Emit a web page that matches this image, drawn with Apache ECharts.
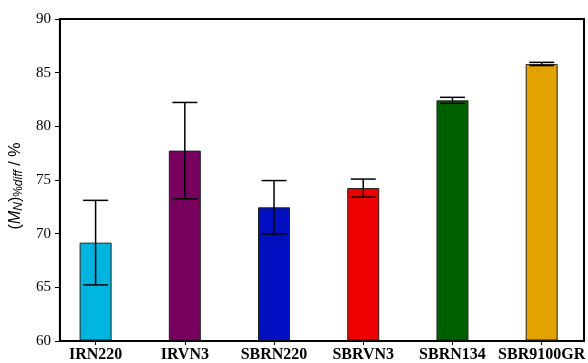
<!DOCTYPE html>
<html>
<head>
<meta charset="utf-8">
<script src="https://cdn.jsdelivr.net/npm/echarts@6/dist/echarts.min.js"></script>
<style>
  html, body { margin: 0; padding: 0; background: #fff; }
  #chart { width: 588px; height: 363px; }
</style>
</head>
<body>
<div id="chart"></div>
<script>
// Mean relative number-average molar mass difference per rubber grade
const categories = ['IRN220', 'IRVN3', 'SBRN220', 'SBRVN3', 'SBRN134', 'SBR9100GR'];
const meanValues = [69.1, 77.7, 72.4, 74.2, 82.4, 85.8];
const errorValues = [3.95, 4.5, 2.5, 0.84, 0.28, 0.15];
const barColors = ['#00B4E0', '#78005E', '#0010C0', '#EE0000', '#006000', '#E2A200'];
const yTicks = [60, 65, 70, 75, 80, 85, 90];

const chart = echarts.init(document.getElementById('chart'), null, { renderer: 'canvas' });

const yMin = yTicks[0];
const yMax = yTicks[yTicks.length - 1];
const yStep = yTicks[1] - yTicks[0];

const barData = meanValues.map((v, i) => ({
  value: v,
  itemStyle: { color: barColors[i] }
}));
const errorData = meanValues.map((v, i) => [i, v - errorValues[i], v + errorValues[i]]);

const option = {
  animation: false,
  backgroundColor: '#fff',
  grid: [
    // bars and category labels
    { left: 51, width: 538, top: 19, height: 322, show: false },
    // framed plot box with the value scale
    { left: 56, right: 4, top: 19, height: 322, show: true, borderColor: '#000', borderWidth: 2, backgroundColor: 'transparent' }
  ],
  xAxis: [
    {
      type: 'category', gridIndex: 0, data: categories,
      axisLine: { show: true, lineStyle: { opacity: 0 } },
      axisTick: { show: true, alignWithLabel: true, length: 5, lineStyle: { color: '#000', width: 1 } },
      axisLabel: { interval: 0, color: '#000', fontFamily: 'Liberation Serif', fontWeight: 'bold', fontSize: 16, margin: 7 }
    },
    { type: 'value', gridIndex: 1, show: false, min: 0, max: 1 }
  ],
  yAxis: [
    { type: 'value', gridIndex: 0, min: yMin, max: yMax, show: false },
    {
      type: 'value', gridIndex: 1, min: yMin, max: yMax, interval: yStep,
      axisLine: { show: true, lineStyle: { color: '#000', width: 2 } },
      axisTick: { show: true, length: 5, lineStyle: { color: '#000', width: 1 } },
      splitLine: { show: false },
      axisLabel: { color: '#000', fontFamily: 'Liberation Serif', fontSize: 15, margin: 9 },
      name: '({i|M}{isub|N}){sub|%}{isub|diff} / %',
      nameLocation: 'middle',
      nameRotate: 90,
      nameGap: 30,
      nameTextStyle: {
        color: '#000', fontFamily: 'Liberation Sans', fontSize: 16,
        padding: [0, 12, 0, 0],
        rich: {
          i: { fontStyle: 'italic', fontFamily: 'Liberation Sans', fontSize: 16, color: '#000' },
          isub: { fontStyle: 'italic', fontFamily: 'Liberation Sans', fontSize: 12, color: '#000', verticalAlign: 'bottom', padding: [6, 0, 0, 0] },
          sub: { fontFamily: 'Liberation Sans', fontSize: 12, color: '#000', verticalAlign: 'bottom', padding: [6, 0, 0, 0] }
        }
      }
    }
  ],
  series: [
    {
      type: 'bar', xAxisIndex: 0, yAxisIndex: 0,
      data: barData, barWidth: 32,
      itemStyle: { borderColor: '#222', borderWidth: 1 }
    },
    {
      type: 'custom', xAxisIndex: 0, yAxisIndex: 0,
      data: errorData,
      z: 5,
      renderItem: function (params, api) {
        const idx = api.value(0);
        const lo = api.coord([idx, api.value(1)]);
        const hi = api.coord([idx, api.value(2)]);
        const half = 12.5;
        const style = { stroke: '#000', lineWidth: 1.5 };
        return {
          type: 'group',
          children: [
            { type: 'line', shape: { x1: hi[0], y1: hi[1], x2: lo[0], y2: lo[1] }, style: style },
            { type: 'line', shape: { x1: hi[0] - half, y1: hi[1], x2: hi[0] + half, y2: hi[1] }, style: style },
            { type: 'line', shape: { x1: lo[0] - half, y1: lo[1], x2: lo[0] + half, y2: lo[1] }, style: style }
          ]
        };
      }
    }
  ]
};

chart.setOption(option);
</script>
</body>
</html>
